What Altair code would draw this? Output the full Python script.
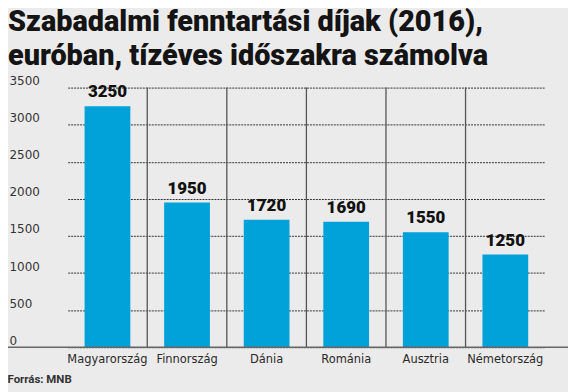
import altair as alt
import pandas as pd

countries = ["Magyarország", "Finnország", "Dánia", "Románia", "Ausztria", "Németország"]
fees = [3250, 1950, 1720, 1690, 1550, 1250]
y_ticks = [0, 500, 1000, 1500, 2000, 2500, 3000, 3500]
title_lines = ["Szabadalmi fenntartási díjak (2016),", "euróban, tízéves időszakra számolva"]
source = "Forrás: MNB"

df = pd.DataFrame({"country": countries, "fee": fees})
sep_df = pd.DataFrame({"country": countries[:-1]})

W, H = 563, 261

x_scale = alt.Scale(domain=countries, range=[60, 540], paddingInner=0, paddingOuter=0)
y_scale = alt.Scale(domain=[0, 3500], nice=False)

base = alt.Chart(df)

x_axis = alt.Axis(title=source, titleAnchor="start", titleAlign="left", titleX=-1, titleY=35,
                  titleBaseline="alphabetic", titleFont="Roboto", titleFontSize=11.5,
                  titleFontWeight="bold", titleColor="#333333",
                  labelAngle=0, labelFont="DejaVu Sans", labelFontSize=11.5, labelColor="#2a2a2a",
                  labelPadding=6, ticks=False, domain=False, grid=False)
y_axis = alt.Axis(title=None, values=y_ticks, format="d", labelAlign="left", labelPadding=-1,
                  labelBaseline="alphabetic", labelOffset=-3, labelFont="DejaVu Sans",
                  labelFontSize=12, labelColor="#333333", ticks=False, domain=False,
                  grid=True, gridColor="#333333", gridDash=[2, 1], gridWidth=1)

bars = base.mark_bar(size=46, color="#00a2d9").encode(
    x=alt.X("country:N", scale=x_scale, sort=countries, axis=x_axis),
    y=alt.Y("fee:Q", scale=y_scale, axis=y_axis),
)

labels = base.mark_text(dy=-5, baseline="bottom", font="Roboto", fontWeight=900, fontSize=17,
                        color="#111111").encode(
    x=alt.X("country:N", scale=x_scale, sort=countries, axis=x_axis),
    y=alt.Y("fee:Q", scale=y_scale, axis=y_axis),
    text=alt.Text("fee:Q"),
)

seps = alt.Chart(sep_df).mark_rule(color="#555555", strokeWidth=1.3, xOffset=40).encode(
    x=alt.X("country:N", scale=x_scale, sort=countries, axis=x_axis),
    y=alt.Y(datum=0, scale=y_scale, axis=y_axis),
    y2=alt.Y2(datum=3500),
)

zero = alt.Chart(pd.DataFrame({"v": [0]})).mark_rule(color="#666666", strokeWidth=1.6).encode(
    y=alt.Y("v:Q", scale=y_scale, axis=y_axis),
)

chart = alt.layer(bars, seps, labels, zero).properties(
    width=W, height=H,
    title=alt.TitleParams(text=title_lines, anchor="start", frame="group", font="Roboto",
                          fontWeight=900, fontSize=29, lineHeight=34, color="#141414", offset=4),
    padding={"left": 0, "top": 79, "right": 0, "bottom": 44},
    autosize=alt.AutoSizeParams(type="none"),
    background="#ecebeb",
).configure_view(stroke=None)

chart.save("out.html", embed_options={"renderer": "svg", "actions": False})
